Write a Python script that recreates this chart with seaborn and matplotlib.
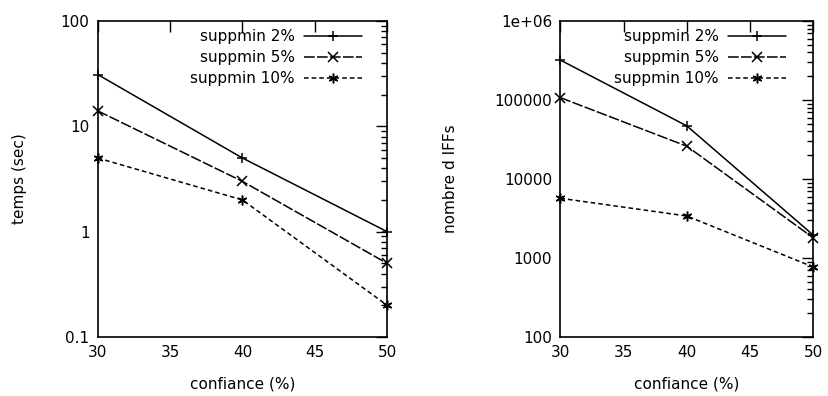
import numpy as np
import pandas as pd
import matplotlib
matplotlib.use("Agg")
import matplotlib.pyplot as plt
import matplotlib.ticker as mticker
import seaborn as sns

# --- donnees ---
confiance = [30, 40, 50]
series = ["suppmin 2%", "suppmin 5%", "suppmin 10%"]
temps_2 = [31, 5, 1.0]
temps_5 = [14, 3, 0.5]
temps_10 = [5, 2, 0.2]
iffs_2 = [320000, 47000, 1950]
iffs_5 = [107000, 26000, 1800]
iffs_10 = [5700, 3400, 770]

sns.set_style("white")
plt.rcParams['font.family'] = ['DejaVu Sans']
plt.rcParams['font.size'] = 11
plt.rcParams['text.color'] = 'black'
plt.rcParams['axes.labelcolor'] = 'black'
plt.rcParams['xtick.color'] = 'black'
plt.rcParams['ytick.color'] = 'black'

def long_df(vals):
    rows = []
    for nom, v in zip(series, vals):
        for c, y in zip(confiance, v):
            rows.append({"confiance": c, "valeur": y, "serie": nom})
    return pd.DataFrame(rows)

df_temps = long_df([temps_2, temps_5, temps_10])
df_iffs = long_df([iffs_2, iffs_5, iffs_10])

marqueurs = {"suppmin 2%": "+", "suppmin 5%": "x", "suppmin 10%": (6, 2, 0)}
traits = {"suppmin 2%": "", "suppmin 5%": (7, 1.5), "suppmin 10%": (3, 2)}

fig = plt.figure(figsize=(8.29, 3.96), dpi=100)
ax1 = fig.add_axes([0.118, 0.149, 0.349, 0.798])
ax2 = fig.add_axes([0.676, 0.149, 0.305, 0.798])

def trace(ax, df, ylim, ylabel, fmt, pad_y, ancre):
    sns.lineplot(data=df, x="confiance", y="valeur", hue="serie", style="serie",
                 palette=["black"] * 3, dashes=traits, markers=marqueurs,
                 markersize=7, markeredgewidth=1.1, markeredgecolor="black",
                 linewidth=1.1, ax=ax)
    for ln in ax.lines:
        ln.set_clip_on(False)
    ax.set_yscale("log")
    ax.set_xlim(30, 50)
    ax.set_ylim(*ylim)
    ax.set_xticks([30, 35, 40, 45, 50])
    ax.yaxis.set_major_formatter(mticker.FuncFormatter(fmt))
    ax.yaxis.set_minor_locator(mticker.LogLocator(base=10, subs=np.arange(2, 10)))
    ax.yaxis.set_minor_formatter(mticker.NullFormatter())
    ax.tick_params(which="both", direction="in", top=True, right=True, labelsize=11, pad=6)
    ax.tick_params(which="major", length=8, width=1)
    ax.tick_params(which="minor", length=4.5, width=1)
    ax.set_xlabel("confiance (%)", fontsize=11, labelpad=12)
    ax.set_ylabel(ylabel, fontsize=11, labelpad=pad_y)
    for s in ax.spines.values():
        s.set_color("black")
        s.set_linewidth(1.2)
    ax.legend(loc="upper right", bbox_to_anchor=ancre, frameon=False, markerfirst=False,
              handlelength=3.8, fontsize=11, borderaxespad=0.4, labelspacing=0.38,
              handletextpad=0.6)

trace(ax1, df_temps, (0.1, 100), "temps (sec)",
      lambda v, p: f"{v:g}", 24, (0.955, 1.012))
trace(ax2, df_iffs, (100, 1e6), "nombre d IFFs",
      lambda v, p: "1e+06" if v >= 1e6 else f"{int(round(v))}", 26, (0.94, 1.012))

fig.savefig("out.png", dpi=100)
